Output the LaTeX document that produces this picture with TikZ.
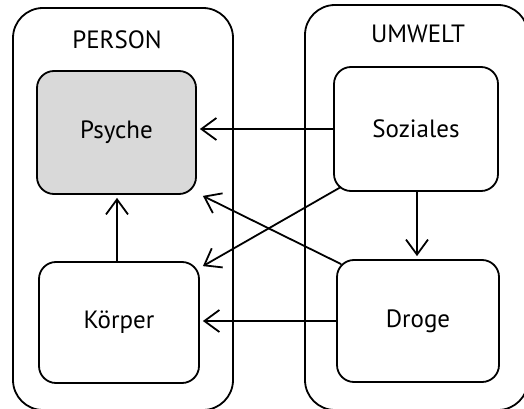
\documentclass[tikz,border=0pt]{standalone}
\usepackage{fontspec}
\setmainfont{PT Sans}
\usetikzlibrary{arrows.meta,calc}
\definecolor{psychegray}{HTML}{D9D9D9}
\tikzset{
  lw/.style={line width=1.8pt},
  outerbox/.style={lw, draw=black, rounded corners=30pt},
  innerbox/.style={lw, draw=black, rounded corners=17pt, minimum width=#1, align=center, inner sep=0pt},
  lbl/.style={font=\fontsize{25}{30}\selectfont},
  conn/.style={lw, -{Straight Barb[length=15pt,width=22pt]}, shorten >=3pt},
}
\begin{document}
\begin{tikzpicture}[x=1pt,y=-1pt]
\useasboundingbox (0,0) rectangle (524,409);
% outer containers
\draw[outerbox] (13,8) rectangle (233,410);
\draw[outerbox] (305,5) rectangle (528,410);
\node[lbl] (person) at (117,40) {PERSON};
\node[lbl] (umwelt) at (418,34) {UMWELT};
% inner boxes
\node[innerbox=159pt, minimum height=123pt, fill=psychegray, lbl] (psyche) at (116.5,132.5) {Psyche};
\node[innerbox=160pt, minimum height=121pt, lbl] (koerper) at (119,322.5) {Körper};
\node[innerbox=164pt, minimum height=124pt, lbl] (soziales) at (416,129) {Soziales};
\node[innerbox=162pt, minimum height=122pt, lbl] (droge) at (418,321) {Droge};
% connector end points on the rounded corners
\coordinate (sA) at ($(soziales.south west)+(8,-5)$);
\coordinate (kA) at ($(koerper.north east)+(3,5)$);
\coordinate (dA) at ($(droge.north west)+(5,5)$);
\coordinate (pA) at ($(psyche.south east)+(6,1)$);
% connectors
\draw[conn] (soziales.west) -- (soziales.west -| psyche.east);
\draw[conn] (droge.west) -- (droge.west -| koerper.east);
\draw[conn] (koerper.north -| 117,0) -- (psyche.south -| 117,0);
\draw[conn] (soziales.south -| 417,0) -- (droge.north -| 417,0);
\draw[lw, -{Straight Barb[length=15pt,width=22pt]}] (sA) -- (kA);
\draw[lw, -{Straight Barb[length=15pt,width=22pt]}] (dA) -- (pA);
\end{tikzpicture}
\end{document}
